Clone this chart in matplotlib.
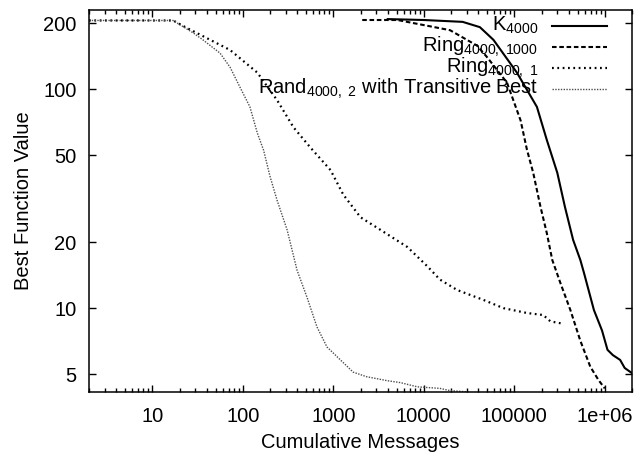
import matplotlib
matplotlib.use('Agg')
import matplotlib.pyplot as plt
from matplotlib.ticker import FixedLocator, FixedFormatter, LogLocator, NullLocator, NullFormatter

plt.rcParams['font.family'] = ['Liberation Sans', 'DejaVu Sans']
plt.rcParams['font.size'] = 14.5
plt.rcParams['mathtext.fontset'] = 'custom'
plt.rcParams['mathtext.rm'] = 'Liberation Sans'
plt.rcParams['mathtext.it'] = 'Liberation Sans:italic'
plt.rcParams['mathtext.bf'] = 'Liberation Sans:bold'

# K_4000
k_x = [4000, 10000, 26900, 41700, 58900, 107000, 178000, 229000, 299000, 363000,
       447000, 537000, 589000, 759000, 933000, 1072000, 1230000, 1479000, 1660000, 1995000]
k_y = [209, 207, 203, 192, 168, 119, 83, 58.6, 41.5, 29,
       20.5, 16.6, 14.5, 9.8, 7.9, 6.45, 6.1, 5.8, 5.33, 5.05]

# Ring_4000,1000
r1000_x = [2090, 5130, 19500, 38900, 50100, 83200, 97700, 117500, 138000, 162000,
           195000, 229000, 263000, 324000, 417000, 537000, 692000, 851000, 1000000]
r1000_y = [207, 207, 186, 158, 140, 107, 89, 72, 53, 41.5,
           29, 22, 16.6, 13, 9.8, 7.1, 5.4, 4.7, 4.3]

# Ring_4000,1
r1_x = [2, 17, 23.2, 43.7, 72.4, 145, 240, 363, 562, 933, 1290, 2000, 3310, 6610,
        11000, 15100, 23400, 32400, 45700, 75900, 138000, 209000, 251000, 339000]
r1_y = [206, 206, 192, 168, 151, 119, 89, 67, 54, 42.7, 33, 26, 22.8, 19,
        15.5, 13.5, 12.1, 11.5, 10.9, 10, 9.5, 9.3, 8.7, 8.5]

# Rand_4000,2 with transitive best
rand_x = [2, 17, 28.2, 36.3, 56.2, 72.4, 93.3, 120, 145, 170, 200, 240, 309, 398,
          513, 661, 851, 1200, 1660, 2340, 3980, 5500, 8510, 15100, 19500, 31600]
rand_y = [206, 206, 181, 168, 146, 126, 102, 83, 63, 52.6, 40, 31, 22.8, 14.9,
          11.2, 8.2, 6.65, 5.8, 5.1, 4.86, 4.66, 4.57, 4.37, 4.3, 4.2, 4.14]

x_ticks = [10, 100, 1000, 10000, 100000, 1000000]
x_tick_labels = ['10', '100', '1000', '10000', '100000', '1e+06']
y_ticks = [5, 10, 20, 50, 100, 200]
y_tick_labels = ['5', '10', '20', '50', '100', '200']

labels = [r'K$_{\mathrm{4000}}$',
          r'Ring$_{\mathrm{4000,\ 1000}}$',
          r'Ring$_{\mathrm{4000,\ 1}}$',
          r'Rand$_{\mathrm{4000,\ 2}}$ with Transitive Best']
styles = [dict(color='black', lw=1.5, ls='-'),
          dict(color='black', lw=1.5, ls=(0, (2.2, 1.3))),
          dict(color='black', lw=1.6, ls=(0, (0.8, 1.6))),
          dict(color='0.3', lw=1.0, ls=(0, (1, 1)))]

fig = plt.figure(figsize=(6.38, 4.54), dpi=100)
ax = fig.add_axes([0.1395, 0.1366, 0.8511, 0.8414])

series = [(k_x, k_y), (r1000_x, r1000_y), (r1_x, r1_y), (rand_x, rand_y)]
for (xs, ys), st in zip(series, styles):
    ax.plot(xs, ys, **st)

ax.set_xscale('log')
ax.set_yscale('log')
ax.set_xlim(2, 2e6)
ax.set_ylim(4.14, 230)

ax.xaxis.set_major_locator(FixedLocator(x_ticks))
ax.xaxis.set_major_formatter(FixedFormatter(x_tick_labels))
ax.xaxis.set_minor_locator(LogLocator(base=10, subs=range(2, 10), numticks=20))
ax.xaxis.set_minor_formatter(NullFormatter())
ax.yaxis.set_major_locator(FixedLocator(y_ticks))
ax.yaxis.set_major_formatter(FixedFormatter(y_tick_labels))
ax.yaxis.set_minor_locator(NullLocator())

ax.tick_params(which='both', direction='in', top=True, right=True, width=1.0)
ax.tick_params(which='major', length=5)
ax.tick_params(which='minor', length=3)
ax.tick_params(axis='x', pad=11)
ax.tick_params(axis='y', pad=9)
for sp in ax.spines.values():
    sp.set_linewidth(1.1)

ax.set_xlabel('Cumulative Messages', labelpad=5)
ax.set_ylabel('Best Function Value', labelpad=7)

# gnuplot-style key: right-justified text, sample to the right
text_right = 0.827
line_x0, line_x1 = 0.853, 0.954
row0, step = 0.945, 0.055
for i, (lab, st) in enumerate(zip(labels, styles)):
    yb = row0 - i * step
    ax.text(text_right, yb, lab, transform=ax.transAxes, ha='right', va='baseline')
    ax.plot([line_x0, line_x1], [yb + 0.014, yb + 0.014], transform=ax.transAxes, **st)

fig.savefig('out.png', dpi=100)
